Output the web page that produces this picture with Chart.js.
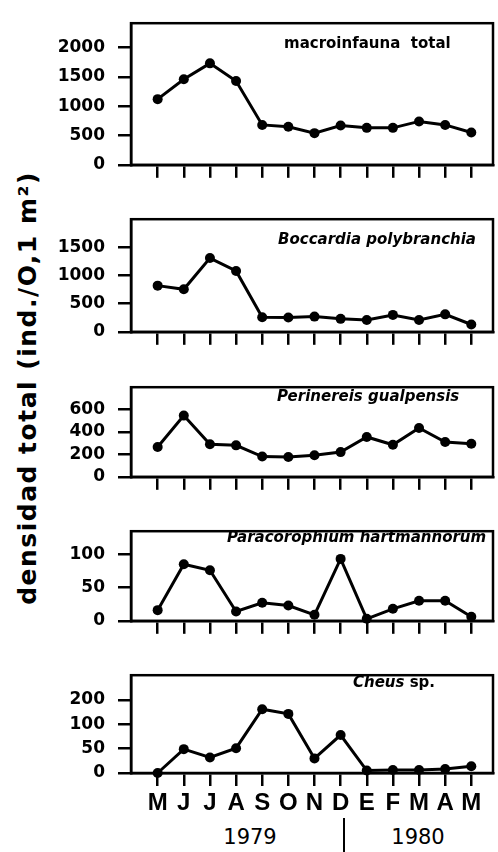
<!DOCTYPE html>
<html>
<head>
<meta charset="utf-8">
<script src="https://cdn.jsdelivr.net/npm/chart.js@4"></script>
<style>
html, body { margin: 0; padding: 0; background: #fff; }
body { width: 498px; height: 852px; position: relative; overflow: hidden; }
canvas { position: absolute; left: 0; }
.ytitle { position: absolute; left: 27px; top: 388px; transform: translate(-50%, -50%) rotate(-90deg);
  font: bold 25px "DejaVu Sans"; letter-spacing: 1.5px; white-space: nowrap; color: #000; }
.year { position: absolute; top: 837px; transform: translate(-50%, -50%); font: 21px "DejaVu Sans"; color: #000; }
.sep { position: absolute; left: 343px; top: 818px; width: 2px; height: 34px; background: #000; }
</style>
</head>
<body>
<div class="ytitle">densidad total (ind./O,1 m²)</div>
<div class="year" style="left:250px">1979</div>
<div class="year" style="left:418px">1980</div>
<div class="sep"></div>
<script>
const months = ['M', 'J', 'J', 'A', 'S', 'O', 'N', 'D', 'E', 'F', 'M', 'A', 'M'];

const macroinfauna = [1120, 1460, 1730, 1430, 680, 650, 540, 670, 630, 630, 740, 680, 550];
const boccardia = [820, 755, 1310, 1080, 260, 255, 270, 230, 210, 300, 210, 310, 130];
const perinereis = [265, 545, 290, 280, 180, 177, 192, 220, 355, 285, 435, 310, 295];
const paracorophium = [16, 85, 76, 14, 27, 23, 9, 93, 3, 18, 30, 30, 6];
const cheus = [0, 49, 32, 51, 162, 143, 30, 78, 5, 6, 6, 8, 14];

const ticksMacro = [0, 500, 1000, 1500, 2000];
const ticksBoccardia = [0, 500, 1000, 1500];
const ticksPerinereis = [0, 200, 400, 600];
const ticksParaco = [0, 50, 100];
const ticksCheus = [0, 50, 100, 200];

// the Cheus axis is broken above 100: 100..200 gets the same room as 50..100
function cheusScale(v) {
  return v <= 100 ? v : 100 + (v - 100) / 2;
}

const panels = [
  { values: macroinfauna, yTicks: ticksMacro, yMax: 2415, top: 0, plotH: 157,
    title: [['macroinfauna  total', false]], titleX: 284, titleY: 44 },
  { values: boccardia, yTicks: ticksBoccardia, yMax: 2000, top: 196, plotH: 128,
    title: [['Boccardia polybranchia', true]], titleX: 278, titleY: 44 },
  { values: perinereis, yTicks: ticksPerinereis, yMax: 798, top: 364, plotH: 105,
    title: [['Perinereis gualpensis', true]], titleX: 277, titleY: 33 },
  { values: paracorophium, yTicks: ticksParaco, yMax: 134.6, top: 508, plotH: 105,
    title: [['Paracorophium hartmannorum', true]], titleX: 227, titleY: 30 },
  { values: cheus, yTicks: ticksCheus, yMax: 201, top: 652, plotH: 106, transform: cheusScale,
    title: [['Cheus', true], [' sp.', false]], titleX: 353, titleY: 31 }
];

// box round the plot area
const frame = {
  id: 'frame',
  afterDraw(chart) {
    const a = chart.chartArea;
    const ctx = chart.ctx;
    ctx.save();
    ctx.strokeStyle = '#000';
    ctx.lineWidth = 2.5;
    ctx.strokeRect(a.left, a.top, a.right - a.left, a.bottom - a.top);
    ctx.restore();
  }
};

const panelTitle = {
  id: 'panelTitle',
  afterDraw(chart, args, opts) {
    const ctx = chart.ctx;
    let x = opts.x;
    ctx.save();
    ctx.fillStyle = '#000';
    ctx.textBaseline = 'middle';
    opts.parts.forEach(function(part) {
      ctx.font = (part[1] ? 'italic ' : '') + 'bold 15px "DejaVu Sans"';
      ctx.fillText(part[0], x, opts.y);
      x += ctx.measureText(part[0]).width;
    });
    ctx.restore();
  }
};

panels.forEach(function(p, k) {
  const last = k === panels.length - 1;
  const axisH = last ? 45 : 16;
  const canvas = document.createElement('canvas');
  canvas.width = 498;
  canvas.height = 15 + p.plotH + axisH;
  canvas.style.top = p.top + 'px';
  document.body.appendChild(canvas);

  const tf = p.transform || function(v) { return v; };

  new Chart(canvas, {
    type: 'line',
    data: {
      datasets: [{
        data: p.values.map(function(v, i) { return { x: i, y: tf(v) }; }),
        borderColor: '#000',
        borderWidth: 3,
        pointRadius: 5,
        pointBackgroundColor: '#000',
        pointBorderWidth: 0,
        tension: 0,
        clip: false
      }]
    },
    options: {
      responsive: false,
      animation: false,
      events: [],
      layout: { padding: { top: 15, right: 2, left: 0, bottom: 0 } },
      plugins: {
        legend: { display: false },
        tooltip: { enabled: false },
        panelTitle: { parts: p.title, x: p.titleX, y: p.titleY }
      },
      scales: {
        x: {
          type: 'linear',
          min: -1.02,
          max: 12.83,
          afterBuildTicks: function(s) { s.ticks = months.map(function(m, i) { return { value: i }; }); },
          afterFit: function(s) { s.height = axisH; },
          grid: { drawOnChartArea: false, tickLength: 13, color: '#000', lineWidth: 2.5 },
          border: { color: '#000', width: 2.5 },
          ticks: {
            display: last,
            autoSkip: false,
            maxRotation: 0,
            padding: 3,
            color: '#000',
            font: { family: 'Liberation Sans', weight: 'bold', size: 24 },
            callback: function(v) { return months[v]; }
          }
        },
        y: {
          min: 0,
          max: p.yMax,
          afterBuildTicks: function(s) { s.ticks = p.yTicks.map(function(t) { return { value: tf(t) }; }); },
          afterFit: function(s) { s.width = 131; },
          grid: { drawOnChartArea: false, tickLength: 13, color: '#000', lineWidth: 2.5 },
          border: { color: '#000', width: 2.5 },
          ticks: {
            padding: 13,
            color: '#000',
            font: { family: 'DejaVu Sans', weight: 'bold', size: 17 },
            callback: function(v, i) { return String(p.yTicks[i]); }
          }
        }
      }
    },
    plugins: [frame, panelTitle]
  });
});
</script>
</body>
</html>
